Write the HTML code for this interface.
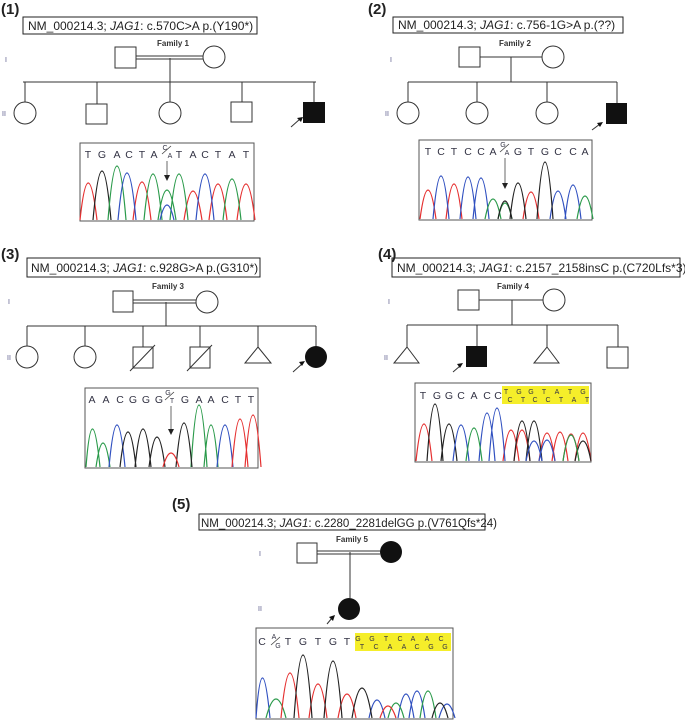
<!DOCTYPE html>
<html><head><meta charset="utf-8"><style>
html,body{margin:0;padding:0;background:#fff}
svg{display:block}
text{font-family:"Liberation Sans",sans-serif}
</style></head><body>
<svg width="685" height="723" viewBox="0 0 685 723" xmlns="http://www.w3.org/2000/svg">
<g font-size="15" font-weight="bold" fill="#222">
<text x="1" y="14">(1)</text><text x="368" y="14">(2)</text>
<text x="1" y="259">(3)</text><text x="378" y="259">(4)</text>
<text x="172" y="509">(5)</text>
</g>
<g fill="none" stroke="#222" stroke-width="1">
<rect x="23" y="17" width="234" height="17"/>
<rect x="393" y="17" width="230" height="16"/>
<rect x="27" y="258" width="233" height="19"/>
<rect x="392" y="258" width="288" height="19"/>
<rect x="199" y="514" width="286" height="16"/>
</g>
<g font-size="12" fill="#222">
<text x="28" y="30">NM_000214.3; <tspan font-style="italic">JAG1</tspan>: c.570C&gt;A p.(Y190*)</text>
<text x="398" y="29">NM_000214.3; <tspan font-style="italic">JAG1</tspan>: c.756-1G&gt;A p.(??)</text>
<text x="31" y="272">NM_000214.3; <tspan font-style="italic">JAG1</tspan>: c.928G&gt;A p.(G310*)</text>
<text x="397" y="272">NM_000214.3; <tspan font-style="italic">JAG1</tspan>: c.2157_2158insC p.(C720Lfs*3)</text>
<text x="201" y="527" font-size="11.5">NM_000214.3; <tspan font-style="italic">JAG1</tspan>: c.2280_2281delGG p.(V761Qfs*24)</text>
</g>
<g font-size="8" font-weight="bold" fill="#333" text-anchor="middle">
<text x="173" y="46">Family 1</text><text x="515" y="46">Family 2</text>
<text x="168" y="289">Family 3</text><text x="513" y="289">Family 4</text>
<text x="352" y="542">Family 5</text>
</g>
<g font-size="7" fill="#558">
<text x="5" y="62">I</text><text x="2" y="116">II</text>
<text x="390" y="62">I</text><text x="385" y="116">II</text>
<text x="8" y="304">I</text><text x="7" y="360">II</text>
<text x="388" y="304">I</text><text x="384" y="360">II</text>
<text x="259" y="556">I</text><text x="258" y="611">II</text>
</g>
<g fill="none" stroke="#333" stroke-width="1">
<!-- F1 -->
<rect x="115" y="47" width="21" height="21"/><circle cx="214" cy="57" r="11"/>
<line x1="136" y1="56" x2="203" y2="56"/><line x1="136" y1="59" x2="203" y2="59"/>
<line x1="170" y1="58" x2="170" y2="82"/><line x1="23" y1="82" x2="316" y2="82"/>
<line x1="25" y1="82" x2="25" y2="102"/><line x1="97" y1="82" x2="97" y2="104"/>
<line x1="170" y1="82" x2="170" y2="102"/><line x1="242" y1="82" x2="242" y2="102"/>
<line x1="314" y1="82" x2="314" y2="102"/>
<circle cx="25" cy="113" r="11"/><rect x="86" y="104" width="21" height="20"/>
<circle cx="170" cy="113" r="11"/><rect x="231" y="102" width="21" height="20"/>
<!-- F2 -->
<rect x="459" y="47" width="21" height="20"/><circle cx="553" cy="57" r="11"/>
<line x1="480" y1="57" x2="542" y2="57"/><line x1="511" y1="57" x2="511" y2="82"/>
<line x1="408" y1="82" x2="617" y2="82"/>
<line x1="408" y1="82" x2="408" y2="102"/><line x1="477" y1="82" x2="477" y2="102"/>
<line x1="547" y1="82" x2="547" y2="102"/><line x1="617" y1="82" x2="617" y2="103"/>
<circle cx="408" cy="113" r="11"/><circle cx="477" cy="113" r="11"/><circle cx="547" cy="113" r="11"/>
<!-- F3 -->
<rect x="113" y="291" width="20" height="21"/><circle cx="207" cy="302" r="11"/>
<line x1="133" y1="300" x2="196" y2="300"/><line x1="133" y1="303" x2="196" y2="303"/>
<line x1="166" y1="302" x2="166" y2="326"/><line x1="27" y1="326" x2="316" y2="326"/>
<line x1="27" y1="326" x2="27" y2="346"/><line x1="85" y1="326" x2="85" y2="346"/>
<line x1="143" y1="326" x2="143" y2="347"/><line x1="200" y1="326" x2="200" y2="347"/>
<line x1="258" y1="326" x2="258" y2="347"/><line x1="316" y1="326" x2="316" y2="346"/>
<circle cx="27" cy="357" r="11"/><circle cx="85" cy="357" r="11"/>
<rect x="133" y="347" width="20" height="21"/><line x1="130" y1="371" x2="155" y2="345"/>
<rect x="190" y="347" width="20" height="21"/><line x1="187" y1="371" x2="212" y2="345"/>
<polygon points="258,347 271,363 245,363"/>
<!-- F4 -->
<rect x="458" y="290" width="21" height="20"/><circle cx="554" cy="300" r="11"/>
<line x1="479" y1="300" x2="543" y2="300"/><line x1="512" y1="300" x2="512" y2="325"/>
<line x1="407" y1="325" x2="618" y2="325"/>
<line x1="407" y1="325" x2="407" y2="347"/><line x1="477" y1="325" x2="477" y2="346"/>
<line x1="547" y1="325" x2="547" y2="347"/><line x1="618" y1="325" x2="618" y2="347"/>
<polygon points="407,347 419,363 394,363"/><polygon points="547,347 559,363 534,363"/>
<rect x="607" y="347" width="21" height="21"/>
<!-- F5 -->
<rect x="297" y="543" width="20" height="20"/>
<line x1="317" y1="551" x2="380" y2="551"/><line x1="317" y1="554" x2="380" y2="554"/>
<line x1="350" y1="552" x2="350" y2="598"/>
<!-- arrows -->
<line x1="291" y1="127" x2="300" y2="119"/><line x1="592" y1="130" x2="600" y2="124"/>
<line x1="293" y1="372" x2="303" y2="363"/><line x1="453" y1="372" x2="460" y2="366"/>
<line x1="327" y1="624" x2="332" y2="618"/>
</g>
<g fill="#111">
<rect x="303" y="102" width="22" height="21"/><rect x="606" y="103" width="21" height="21"/>
<circle cx="316" cy="357" r="11"/><rect x="466" y="346" width="21" height="21"/>
<circle cx="391" cy="552" r="11"/><circle cx="349" cy="609" r="11"/>
<polygon points="303,117 297,118 301,122"/><polygon points="603,122 597,123 600,127"/>
<polygon points="305,361 299,362 302,366"/><polygon points="463,363 457,364 460,368"/>
<polygon points="335,615 329,617 333,621"/>
</g>
<!-- chromatogram boxes -->
<g fill="#fff" stroke="#555" stroke-width="1">
<rect x="80" y="143" width="174" height="78"/>
<rect x="419" y="140" width="173" height="80"/>
<rect x="85" y="388" width="173" height="80"/>
<rect x="415" y="383" width="176" height="79"/>
<rect x="256" y="628" width="197" height="91"/>
</g>
<rect x="502" y="386" width="87" height="18" fill="#f5ee2a"/>
<rect x="355" y="633" width="96" height="18" fill="#f5ee2a"/>
<g font-size="10.5" fill="#334" text-anchor="middle">
<text x="88" y="158">T</text><text x="102" y="158">G</text><text x="117" y="158">A</text><text x="129" y="158">C</text><text x="142" y="158">T</text><text x="154" y="158">A</text>
<text x="179" y="158">T</text><text x="193" y="158">A</text><text x="205" y="158">C</text><text x="218" y="158">T</text><text x="232" y="158">A</text><text x="246" y="158">T</text>
<text x="428" y="155">T</text><text x="441" y="155">C</text><text x="454" y="155">T</text><text x="468" y="155">C</text><text x="481" y="155">C</text><text x="493" y="155">A</text>
<text x="518" y="155">G</text><text x="531" y="155">T</text><text x="545" y="155">G</text><text x="558" y="155">C</text><text x="573" y="155">C</text><text x="585" y="155">A</text>
<text x="92" y="403">A</text><text x="106" y="403">A</text><text x="120" y="403">C</text><text x="133" y="403">G</text><text x="146" y="403">G</text><text x="159" y="403">G</text>
<text x="185" y="403">G</text><text x="199" y="403">A</text><text x="211" y="403">A</text><text x="225" y="403">C</text><text x="238" y="403">T</text><text x="251" y="403">T</text>
<text x="423" y="399">T</text><text x="437" y="399">G</text><text x="449" y="399">G</text><text x="461" y="399">C</text><text x="474" y="399">A</text><text x="487" y="399">C</text><text x="498" y="399">C</text>
<text x="262" y="645">C</text><text x="288" y="645">T</text><text x="303" y="645">G</text><text x="318" y="645">T</text><text x="333" y="645">G</text><text x="347" y="645">T</text>
</g>
<g font-size="7" fill="#334" text-anchor="middle">
<text x="165" y="150">C</text><text x="170" y="158">A</text>
<text x="503" y="147">G</text><text x="507" y="155">A</text>
<text x="168" y="395">G</text><text x="172" y="403">T</text>
<text x="274" y="639">A</text><text x="278" y="648">G</text>
<text x="506" y="394">T</text><text x="510" y="402">C</text><text x="519" y="394">G</text><text x="523" y="402">T</text>
<text x="531" y="394">G</text><text x="535" y="402">C</text><text x="544" y="394">T</text><text x="548" y="402">C</text>
<text x="557" y="394">A</text><text x="561" y="402">T</text><text x="570" y="394">T</text><text x="574" y="402">A</text>
<text x="583" y="394">G</text><text x="587" y="402">T</text>
<text x="358" y="641">G</text><text x="362" y="649">T</text><text x="372" y="641">G</text><text x="376" y="649">C</text>
<text x="386" y="641">T</text><text x="390" y="649">A</text><text x="400" y="641">C</text><text x="404" y="649">A</text>
<text x="413" y="641">A</text><text x="417" y="649">C</text><text x="427" y="641">A</text><text x="431" y="649">G</text>
<text x="441" y="641">C</text><text x="445" y="649">G</text>
</g>
<g stroke="#444" stroke-width="0.8">
<line x1="162" y1="154" x2="171" y2="146"/><line x1="500" y1="152" x2="509" y2="144"/>
<line x1="165" y1="400" x2="174" y2="392"/><line x1="271" y1="645" x2="280" y2="637"/>
<line x1="167" y1="161" x2="167" y2="176"/><line x1="505" y1="158" x2="505" y2="184"/>
<line x1="171" y1="406" x2="171" y2="430"/>
</g>
<g fill="#222"><polygon points="164,175 170,175 167,181"/><polygon points="502,183 508,183 505,189"/><polygon points="168,429 174,429 171,435"/></g>
<g fill="none" stroke-width="1.2">
<!-- chrom 1 base 220 -->
<path stroke="#e53030" d="M80 220Q88 146 97 220M133 220Q142 144 151 220M184 220Q193 162 202 220M209 220Q218 148 227 220M237 220Q246 148 255 220"/>
<path stroke="#222" d="M93 220Q102 122 111 220"/>
<path stroke="#2a9a4a" d="M108 220Q117 112 126 220M144 220Q153 128 162 220M158 220Q167 160 176 220M170 220Q179 128 188 220M223 220Q232 138 241 220"/>
<path stroke="#3050c0" d="M118 220Q127 126 136 220M160 220Q167 190 174 220M196 220Q205 128 214 220"/>
<!-- chrom 2 base 219 -->
<path stroke="#e53030" d="M420 219Q428 161 436 219M446 219Q454 149 462 219M523 219Q531 165 539 219"/>
<path stroke="#3050c0" d="M433 219Q441 133 449 219M460 219Q468 135 476 219M473 219Q481 137 489 219M550 219Q558 163 566 219M565 219Q573 151 581 219"/>
<path stroke="#2a9a4a" d="M485 219Q493 179 501 219M498 219Q505 187 512 219M577 219Q585 173 593 219"/>
<path stroke="#222" d="M498 219Q505 183 512 219M510 219Q518 147 526 219M537 219Q545 105 553 219"/>
<!-- chrom 3 base 467 -->
<path stroke="#2a9a4a" d="M86 467Q92 391 100 467M96 467Q103 419 110 467M191 467Q199 343 207 467M204 467Q211 383 218 467"/>
<path stroke="#3050c0" d="M109 467Q117 383 125 467M217 467Q225 383 233 467"/>
<path stroke="#222" d="M120 467Q128 397 136 467M135 467Q143 391 151 467M149 467Q157 407 165 467M176 467Q184 379 192 467"/>
<path stroke="#e53030" d="M163 467Q171 439 179 467M232 467Q240 371 248 467M245 467Q253 363 261 467"/>
<!-- chrom 4 base 461 -->
<path stroke="#e53030" d="M416 461Q424 387 432 461M503 461Q511 399 519 461M514 461Q522 399 530 461M539 461Q547 405 555 461M552 461Q560 403 568 461M563 461Q571 407 579 461M575 461Q583 405 591 461"/>
<path stroke="#222" d="M427 461Q435 347 443 461M441 461Q449 387 457 461M514 461Q522 381 530 461M526 461Q534 381 542 461M575 461Q583 421 591 461"/>
<path stroke="#3050c0" d="M453 461Q461 389 469 461M479 461Q487 365 495 461M489 461Q497 355 505 461M526 461Q534 421 542 461M539 461Q547 419 555 461"/>
<path stroke="#2a9a4a" d="M466 461Q474 395 482 461M563 461Q571 409 579 461"/>
<!-- chrom 5 base 718 -->
<path stroke="#3050c0" d="M256 718Q262 638 270 718M369 718Q377 682 385 718M398 718Q406 670 414 718M409 718Q417 664 425 718M439 718Q447 690 455 718"/>
<path stroke="#2a9a4a" d="M266 718Q276 680 286 718M388 718Q396 688 404 718M420 718Q428 664 436 718"/>
<path stroke="#e53030" d="M281 718Q290 628 299 718M309 718Q318 650 327 718M338 718Q347 670 356 718M380 718Q388 694 396 718"/>
<path stroke="#222" d="M294 718Q303 592 312 718M324 718Q333 604 342 718M352 718Q362 658 372 718M432 718Q440 688 448 718"/>
</g>
</svg>
</body></html>
